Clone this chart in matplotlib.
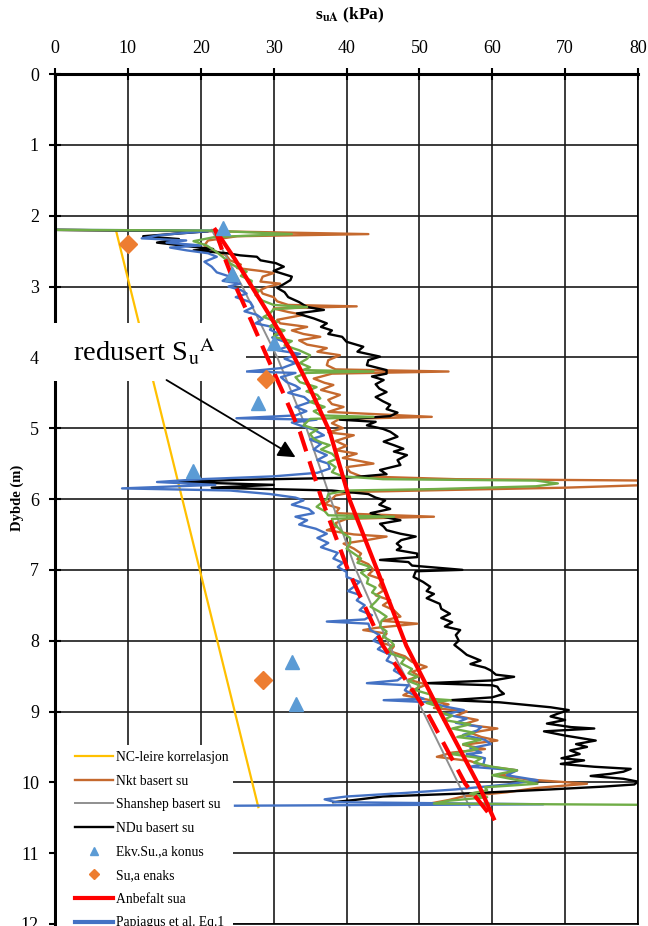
import matplotlib
matplotlib.use('Agg')
import matplotlib.pyplot as plt
from matplotlib.patches import Rectangle

plt.rcParams['font.family'] = ['Liberation Serif', 'DejaVu Serif']
plt.rcParams['mathtext.fontset'] = 'stix'

# NC-leire korrelasjon (straight line)
nc_d = [2.22, 10.35]
nc_su = [8.4, 27.9]

# Shanshep basert su
shan_d = [2.2, 3.0, 4.0, 5.0, 6.05, 7.0, 8.05, 9.0, 10.07, 10.35]
shan_su = [21.5, 25.7, 30.5, 34.5, 38.0, 41.3, 45.8, 50.5, 55.6, 56.9]

# Anbefalt sua (solid) and redusert (dashed)
anb_d = [2.2, 2.6, 3.0, 3.5, 3.97, 4.44, 5.05, 6.03, 7.0, 8.07, 9.0, 10.05, 10.51]
anb_su = [22.0, 24.6, 27.0, 30.0, 32.7, 35.0, 37.7, 40.5, 44.2, 48.2, 52.8, 58.2, 60.2]
red_d = [2.2, 2.6, 3.0, 3.5, 3.97, 4.5, 5.05, 6.0, 7.0, 8.07, 9.0, 10.02, 10.5]
red_su = [22.0, 23.3, 24.8, 27.0, 29.0, 31.3, 33.6, 36.6, 40.2, 45.0, 51.0, 56.3, 60.0]

# Ekv.Su.,a konus
kon_d = [2.17, 2.82, 3.8, 4.65, 5.6, 8.3, 8.9]
kon_su = [23.0, 24.3, 30.0, 27.9, 19.0, 32.5, 33.1]

# Su,a enaks
enk_d = [2.4, 4.31, 8.55]
enk_su = [10.0, 29.0, 28.6]

# Nkt basert su
nkt_d = [2.20, 2.22, 2.26, 2.29, 2.35, 2.42, 2.49, 2.56, 2.63, 2.69, 2.74, 2.78, 2.81, 2.86,
         2.93, 2.96, 3.01, 3.05, 3.10, 3.15, 3.21, 3.26, 3.28, 3.31, 3.36, 3.40, 3.47, 3.52,
         3.57, 3.62, 3.67, 3.71, 3.76, 3.82, 3.87, 3.92, 3.97, 4.04, 4.11, 4.17, 4.20, 4.23,
         4.30, 4.36, 4.39, 4.46, 4.53, 4.60, 4.66, 4.70, 4.77, 4.84, 4.87, 4.93, 5.00, 5.06,
         5.10, 5.18, 5.25, 5.31, 5.36, 5.42, 5.50, 5.55, 5.62, 5.68, 5.72, 5.74, 5.80, 5.84,
         5.87, 5.90, 5.95, 6.00, 6.07, 6.13, 6.20, 6.25, 6.28, 6.34, 6.39, 6.44, 6.50, 6.53,
         6.58, 6.63, 6.70, 6.77, 6.85, 6.92, 7.00, 7.07, 7.14, 7.22, 7.29, 7.36, 7.43, 7.50,
         7.57, 7.66, 7.72, 7.76, 7.82, 7.85, 7.90, 7.96, 8.02, 8.08, 8.15, 8.22, 8.30, 8.37,
         8.44, 8.50, 8.55, 8.62, 8.70, 8.77, 8.83, 8.90, 8.95, 9.00, 9.06, 9.12, 9.18, 9.24,
         9.30, 9.36, 9.41, 9.47, 9.53, 9.58, 9.64, 9.70, 9.77, 9.83, 9.90, 9.96, 10.02, 10.08,
         10.14, 10.20, 10.25, 10.30]
nkt_su = [0, 22, 43.0, 25, 21, 20.5, 21.7, 23.5, 24.0, 25.5, 25.0, 28.2, 30.0, 28.5,
          28.2, 30.9, 29.0, 28.2, 28.5, 30.0, 30.5, 32.0, 41.4, 30.0, 32.0, 34.1, 30.5, 30.9,
          34.6, 32.5, 34.1, 36.4, 33.5, 34.6, 37.3, 36.0, 39.1, 37.5, 37.3, 38.5, 54.0, 38.0,
          35.5, 37.0, 38.2, 36.5, 39.1, 37.5, 38.0, 39.6, 37.5, 51.7, 39.0, 38.0, 39.5, 37.5,
          41.0, 38.5, 40.0, 38.5, 41.4, 39.5, 43.7, 40.0, 40.5, 42, 55, 82, 82, 70,
          55, 41, 38.5, 38.0, 37.0, 39.0, 38.5, 52.0, 40.0, 38.5, 38.7, 37.3, 41.0, 45.5,
          42.8, 39.6, 41.0, 42.0, 41.5, 43.0, 43.7, 43.0, 45.0, 44.5, 45.1, 44.0, 46.0, 45.0,
          46.5, 47.4, 45.0, 49.7, 44.0, 42.3, 45.5, 45.0, 44.5, 46.5, 46.0, 48.0, 49.0, 51.0,
          49.0, 50.0, 48.5, 51.0, 49.0, 47.8, 51.0, 54.0, 52.0, 56.5, 55.0, 58.0, 56.0, 60.7,
          57.0, 58.5, 60.7, 56.0, 59.0, 54.5, 52.4, 57.0, 59.0, 63.4, 61.0, 65.0, 73.0, 66.0,
          62.0, 56.0, 54.0, 51.4]

# NDu basert su
ndu_d = [2.20, 2.22, 2.26, 2.29, 2.33, 2.38, 2.44, 2.47, 2.49, 2.53, 2.56, 2.58, 2.63, 2.67,
         2.72, 2.78, 2.86, 2.91, 2.96, 3.02, 3.08, 3.15, 3.22, 3.29, 3.33, 3.38, 3.45, 3.52,
         3.57, 3.62, 3.67, 3.71, 3.78, 3.85, 3.92, 3.99, 4.04, 4.11, 4.18, 4.23, 4.27, 4.32,
         4.38, 4.44, 4.49, 4.56, 4.62, 4.67, 4.73, 4.78, 4.83, 4.88, 4.91, 4.96, 5.01, 5.05,
         5.12, 5.19, 5.24, 5.29, 5.33, 5.38, 5.45, 5.52, 5.59, 5.65, 5.70, 5.73, 5.76, 5.80,
         5.84, 5.88, 5.93, 5.98, 6.02, 6.08, 6.14, 6.20, 6.25, 6.30, 6.35, 6.39, 6.44, 6.49,
         6.53, 6.58, 6.63, 6.68, 6.72, 6.77, 6.82, 6.86, 6.89, 6.94, 7.00, 7.02, 7.10, 7.17,
         7.24, 7.30, 7.34, 7.40, 7.48, 7.55, 7.62, 7.68, 7.74, 7.80, 7.85, 7.92, 8.00, 8.06,
         8.14, 8.20, 8.28, 8.33, 8.38, 8.42, 8.48, 8.51, 8.56, 8.60, 8.63, 8.65, 8.70, 8.75,
         8.80, 8.84, 8.87, 8.89, 8.94, 8.98, 9.03, 9.07, 9.12, 9.17, 9.22, 9.24, 9.28, 9.34,
         9.41, 9.46, 9.50, 9.55, 9.60, 9.66, 9.69, 9.74, 9.78, 9.81, 9.85, 9.88, 9.91, 9.95,
         9.99, 10.03, 10.06, 10.10, 10.15, 10.20, 10.25, 10.28]
ndu_su = [0, 21, 16, 12.1, 17, 14, 19, 21.7, 19.0, 23.6, 25.4, 27.7, 28.2, 30.3,
          31.4, 30.0, 32.5, 32.3, 31.5, 30.5, 31.5, 32.0, 33.5, 34.6, 36.9, 33.2, 35.5, 37.3,
          36.5, 38.0, 37.5, 39.4, 40.0, 42.3, 41.5, 44.6, 43.0, 42.8, 45.5, 45.5, 43.5, 45.1,
          44.0, 44.5, 45.5, 44.0, 45.0, 46.0, 45.5, 47.0, 46.0, 39.1, 44.0, 42.8, 45.0, 46.0,
          47.0, 45.1, 46.5, 47.8, 46.5, 48.3, 47.0, 47.4, 44.6, 45.5, 40, 25, 17.0, 30,
          21.5, 38, 43.0, 44.0, 45.3, 44.5, 46.0, 43.3, 45.0, 47.4, 44.6, 45.1, 45.5, 47.4,
          49.5, 47.5, 46.9, 47.5, 46.9, 49.7, 49.7, 44.6, 48.5, 49.0, 55.9, 49.5, 49.2, 50.5,
          51.5, 51.0, 52.0, 51.0, 52.8, 53.0, 54.2, 53.0, 54.5, 53.5, 55.6, 55.0, 55.4, 54.8,
          55.8, 56.5, 58.4, 57.0, 59.0, 59.8, 60.5, 63.0, 60.2, 51.0, 60.0, 60.7, 61.0, 61.6,
          60.0, 54.3, 61.0, 63.0, 68.0, 70.5, 69.0, 68.0, 70.0, 67.5, 70.8, 74.0, 67.1, 70.0,
          74.2, 71.5, 73.0, 70.7, 72.0, 69.5, 72.6, 69.4, 74.0, 79.0, 78.0, 76.2, 73.5, 78.0,
          80.0, 79.5, 75.3, 68.0, 58.0, 45.0, 41.0, 38.2]

# Papiagus et al. Eq.1
pap_d = [2.20, 2.21, 2.25, 2.28, 2.32, 2.35, 2.38, 2.42, 2.45, 2.49, 2.53, 2.58, 2.65, 2.72,
         2.80, 2.86, 2.92, 2.96, 3.00, 3.05, 3.10, 3.15, 3.22, 3.29, 3.35, 3.40, 3.46, 3.52,
         3.57, 3.61, 3.67, 3.72, 3.78, 3.85, 3.90, 3.95, 4.02, 4.08, 4.15, 4.20, 4.22, 4.28,
         4.35, 4.40, 4.44, 4.50, 4.56, 4.63, 4.70, 4.76, 4.82, 4.86, 4.88, 4.92, 4.96, 5.02,
         5.10, 5.16, 5.22, 5.30, 5.38, 5.45, 5.50, 5.57, 5.63, 5.68, 5.72, 5.76, 5.80, 5.85,
         5.88, 5.93, 5.98, 6.02, 6.08, 6.14, 6.20, 6.25, 6.30, 6.36, 6.42, 6.49, 6.55, 6.62,
         6.68, 6.76, 6.84, 6.90, 6.96, 7.03, 7.10, 7.17, 7.24, 7.30, 7.36, 7.43, 7.50, 7.57,
         7.64, 7.70, 7.73, 7.76, 7.85, 7.92, 8.00, 8.06, 8.12, 8.20, 8.28, 8.35, 8.42, 8.50,
         8.56, 8.60, 8.63, 8.70, 8.78, 8.82, 8.84, 8.87, 8.93, 8.98, 9.04, 9.10, 9.16, 9.22,
         9.27, 9.33, 9.40, 9.46, 9.52, 9.58, 9.60, 9.66, 9.74, 9.78, 9.83, 9.90, 9.97, 10.03,
         10.10, 10.15, 10.20, 10.24, 10.28, 10.31, 10.33]
pap_su = [0, 22, 17, 14, 11.9, 18, 15.3, 20, 15.8, 18.1, 21, 22.2, 20.5, 21.5,
          22.2, 24, 23, 25.4, 23.8, 25.5, 26.3, 24.8, 26.8, 27.2, 26, 27.7, 28.5, 27.5,
          29.8, 29.5, 30.8, 29.8, 31.5, 31.8, 30.5, 33.6, 31.5, 33.0, 31.2, 26.3, 33.0, 31.0,
          31.8, 33.0, 33.6, 32.0, 34.2, 35.0, 33.0, 34.5, 33.0, 24.9, 35.9, 32.5, 33.6, 35.5,
          36.9, 35.0, 36.5, 35.5, 37.3, 36.0, 37.5, 37.7, 36.0, 30, 20, 14, 22, 9.2,
          24, 29.5, 33, 34.1, 32.5, 34.8, 35.5, 33.0, 34.6, 33.5, 35.8, 37.3, 36.0, 37.5,
          36.5, 38.8, 38.2, 39.5, 38.8, 40.0, 40.0, 41.8, 41.0, 40.2, 42.0, 41.4, 42.5, 41.8,
          43.5, 42.5, 37.3, 43.0, 43.3, 44.5, 43.7, 45.0, 44.3, 46.0, 45.5, 47.0, 46.5, 47.8,
          47.0, 42.8, 48.5, 48.0, 49.5, 50.6, 45.1, 51.5, 53.5, 56.1, 53.5, 56.5, 55.0, 58.5,
          57.9, 56.0, 59.0, 59.8, 57.0, 58.5, 56.5, 59.0, 58.8, 57.0, 63.4, 62.0, 66.2, 62.0,
          55.0, 48.0, 40.0, 37.0, 38.5, 67.0, 24.7]

# green profile
grn_d = [2.20, 2.21, 2.26, 2.30, 2.36, 2.42, 2.50, 2.58, 2.67, 2.73, 2.79, 2.85, 2.92, 3.00,
         3.06, 3.12, 3.20, 3.26, 3.29, 3.32, 3.38, 3.43, 3.50, 3.56, 3.62, 3.68, 3.71, 3.77,
         3.83, 3.90, 3.97, 4.02, 4.08, 4.14, 4.18, 4.20, 4.22, 4.28, 4.35, 4.42, 4.48, 4.53,
         4.58, 4.63, 4.70, 4.76, 4.82, 4.84, 4.87, 4.92, 4.96, 5.02, 5.08, 5.15, 5.20, 5.24,
         5.30, 5.36, 5.43, 5.48, 5.55, 5.62, 5.68, 5.72, 5.74, 5.78, 5.82, 5.86, 5.88, 5.93,
         6.00, 6.06, 6.11, 6.17, 6.23, 6.25, 6.28, 6.35, 6.42, 6.49, 6.55, 6.63, 6.70, 6.77,
         6.84, 6.90, 6.96, 7.04, 7.12, 7.19, 7.25, 7.32, 7.38, 7.45, 7.52, 7.59, 7.66, 7.72,
         7.80, 7.87, 7.94, 8.00, 8.06, 8.12, 8.18, 8.25, 8.32, 8.40, 8.46, 8.51, 8.57, 8.63,
         8.70, 8.76, 8.82, 8.84, 8.88, 8.94, 9.00, 9.06, 9.12, 9.18, 9.24, 9.30, 9.36, 9.40,
         9.46, 9.53, 9.60, 9.66, 9.72, 9.78, 9.83, 9.90, 9.96, 10.02, 10.07, 10.11, 10.16, 10.21,
         10.26, 10.30, 10.32]
grn_su = [0, 21, 32.5, 22, 19, 20.8, 22.0, 23.0, 24.0, 25.0, 26.3, 25.5, 27.0, 26.8,
          28.0, 27.5, 28.5, 30.0, 34.6, 30.0, 29.5, 28.6, 30.5, 29.5, 31.5, 30.2, 30.0, 32.5,
          31.5, 33.5, 35.0, 34.6, 33.6, 35.0, 34.0, 43.7, 34.5, 33.0, 33.6, 35.9, 34.5, 36.0,
          36.4, 35.0, 37.0, 35.5, 36.5, 43.7, 35.0, 34.5, 34.1, 36.0, 35.0, 35.5, 36.5, 37.7,
          36.5, 38.0, 38.7, 37.5, 38.5, 38.0, 39.5, 45, 66.0, 69.0, 66.0, 52, 40, 37.5,
          37.3, 36.5, 35.9, 37.0, 37.5, 46.5, 38.0, 38.2, 39.0, 39.6, 40.5, 40.5, 40.0, 41.0,
          42.0, 41.5, 43.3, 42.0, 43.0, 42.8, 44.0, 43.5, 44.6, 44.0, 43.3, 44.5, 45.5, 44.8,
          44.6, 45.5, 45.0, 46.0, 46.5, 45.8, 46.0, 48.0, 47.5, 49.0, 48.5, 49.7, 48.5, 50.0,
          49.5, 51.5, 51.5, 54.3, 51.0, 53.0, 52.5, 54.5, 53.3, 57.0, 54.5, 57.5, 55.2, 58.4,
          56.0, 58.0, 54.3, 58.5, 57.5, 60.0, 63.4, 60.0, 63.0, 66.2, 59.0, 59.3, 57.0, 59.3,
          54.0, 52.0, 85]

fig = plt.figure(figsize=(6.48, 9.26), dpi=100)
ax = fig.add_axes([55 / 648, 0.00216, 583 / 648, 0.9179])

ax.plot(nc_su, nc_d, color='#FFC000', lw=1.6, zorder=2, label='NC-leire korrelasjon')
ax.plot(nkt_su, nkt_d, color='#C5692E', lw=1.7, zorder=2.1, label='Nkt basert su')
ax.plot(shan_su, shan_d, color='#8F8F8F', lw=1.4, zorder=2.2, label='Shanshep basert su')
ax.plot(ndu_su, ndu_d, color='black', lw=1.7, zorder=2.3, label='NDu basert su')
ax.plot(pap_su, pap_d, color='#4472C4', lw=1.7, zorder=2.4)
ax.plot(grn_su, grn_d, color='#70AD47', lw=1.7, zorder=2.5)
ax.plot(kon_su, kon_d, ls='none', marker='^', ms=10, color='#5B9BD5', zorder=4,
        label='Ekv.Su.,a konus')
ax.plot(enk_su, enk_d, ls='none', marker='D', ms=9, color='#ED7D31', zorder=4,
        label='Su,a enaks')
ax.plot(red_su, red_d, color='#FF0000', lw=3.0, ls=(0, (5, 2.5)), zorder=3)
ax.plot(anb_su, anb_d, color='#FF0000', lw=3.0, zorder=3, label='Anbefalt sua')
ax.plot([], [], color='#4472C4', lw=3.0, label='Papiagus et al. Eq.1')

ax.set_xlim(0, 80)
ax.set_ylim(12, 0)
ax.set_xticks(range(0, 81, 10))
ax.set_yticks(range(0, 13))
ax.xaxis.tick_top()
ax.tick_params(axis='both', direction='inout', length=9, width=1.5, labelsize=13, colors='black')
ax.tick_params(axis='x', pad=8)
ax.tick_params(axis='y', pad=7)
ax.grid(True, color='#1a1a1a', lw=1.2)
ax.set_axisbelow(True)
for s in ['top', 'left']:
    ax.spines[s].set_linewidth(2.2)
for s in ['right', 'bottom']:
    ax.spines[s].set_linewidth(1.2)

fig.text(0.540, 0.983, r's$_{\mathbf{uA}}$ (kPa)', fontsize=12.5, fontweight='bold',
         ha='center', va='center')
fig.text(17 / 648, 0.462, 'Dybde (m)', fontsize=10.5, fontweight='bold', rotation=90,
         ha='center', va='center')

# annotation box with arrow
ax.add_patch(Rectangle((-0.96, 3.52), 27.2, 0.82, facecolor='white', edgecolor='none',
                       clip_on=False, zorder=6))
ax.text(12.3, 3.93, r'redusert S$_{\mathrm{u}}$$^{\mathrm{A}}$', fontsize=20.5,
        ha='center', va='center', zorder=7)
ax.annotate('', xy=(33.0, 5.41), xytext=(15.3, 4.32),
            arrowprops=dict(arrowstyle='-|>', color='black', lw=1.3, mutation_scale=26,
                            shrinkA=0, shrinkB=0), zorder=7)

# white legend area, legend drawn without its own frame
ax.add_patch(Rectangle((57 / 648, 0), 176 / 648, 1 - 745 / 926, transform=fig.transFigure,
                       facecolor='white', edgecolor='none', clip_on=False, zorder=7))
leg = ax.legend(loc='upper left', bbox_to_anchor=(75 / 648, 1 - 751 / 926),
                bbox_transform=fig.transFigure, fontsize=9.8, frameon=False,
                handlelength=2.8, handletextpad=0.22, labelspacing=0.78,
                borderpad=0, borderaxespad=0, markerscale=0.55)
leg.set_zorder(8)

fig.savefig('out.png', dpi=100)
